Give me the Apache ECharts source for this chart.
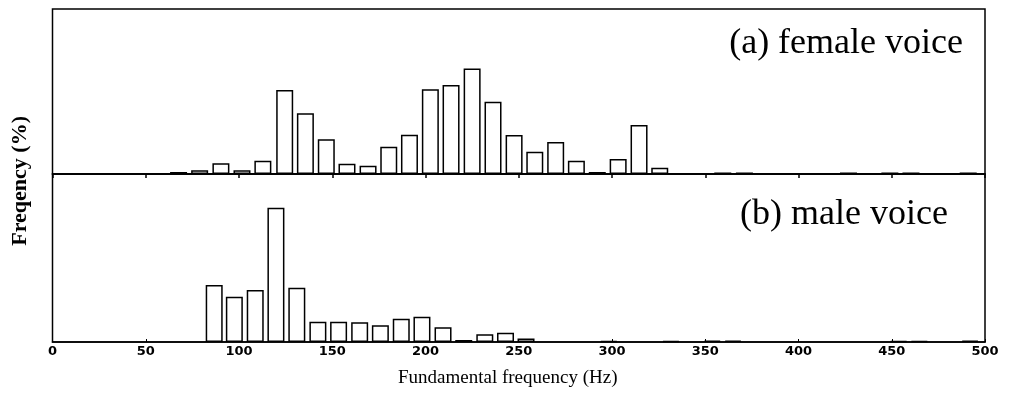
<!DOCTYPE html>
<html>
<head>
<meta charset="utf-8">
<script src="https://cdn.jsdelivr.net/npm/echarts@6/dist/echarts.min.js"></script>
<style>
  html, body { margin: 0; padding: 0; background: #fff; }
  #chart { width: 1010px; height: 395px; }
</style>
</head>
<body>
<div id="chart"></div>
<script>
// bin centres (Hz) and frequency (%)
const femaleBins = [67.6, 78.9, 90.3, 101.6, 112.8, 124.5, 135.6, 146.8, 157.9, 169.2,
  180.3, 191.4, 202.6, 213.7, 225.0, 236.2, 247.5, 258.6, 269.8, 280.9,
  292.1, 303.3, 314.5, 325.6, 359.4, 371.0, 426.8, 449.0, 460.3, 491.0];
const femaleValues = [0.24, 0.44, 1.28, 0.44, 1.59, 10.02, 7.24, 4.14, 1.23, 0.99,
  3.26, 4.69, 10.11, 10.62, 12.61, 8.63, 4.65, 2.66, 3.82, 1.59,
  0.24, 1.79, 5.85, 0.75, 0.18, 0.18, 0.18, 0.18, 0.18, 0.18];

const maleBins = [86.7, 97.5, 108.7, 119.8, 131.0, 142.3, 153.4, 164.7, 175.8, 187.0,
  198.1, 209.4, 220.5, 231.8, 242.9, 253.9, 298.3, 331.6, 353.8, 364.9,
  453.7, 464.8, 492.0];
const maleValues = [11.11, 8.83, 10.14, 26.18, 10.58, 3.96, 3.96, 3.84, 3.26, 4.54,
  4.93, 2.87, 0.39, 1.50, 1.81, 0.68, 0.2, 0.2, 0.25, 0.25,
  0.2, 0.2, 0.25];

const xTicks = [0, 50, 100, 150, 200, 250, 300, 350, 400, 450, 500];

const panelTitles = ['(a) female voice', '(b) male voice'];
const xName = 'Fundamental frequency (Hz)';
const yName = 'Freqency (%)';

const pairs = (xs, ys) => xs.map((x, i) => [x, ys[i]]);

const barStyle = {color: '#fff', borderColor: '#000', borderWidth: 1.5};
const serif = '"Liberation Serif", "DejaVu Serif", serif';

const chart = echarts.init(document.getElementById('chart'));

const option = {
    animation: false,
    backgroundColor: '#fff',
    title: [
        {text: panelTitles[0], right: 42, top: 21,
            textStyle: {fontFamily: serif, fontSize: 36, fontWeight: 'normal', color: '#000'}},
        {text: panelTitles[1], right: 57, top: 192,
            textStyle: {fontFamily: serif, fontSize: 36, fontWeight: 'normal', color: '#000'}}
    ],
    graphic: [
        {
            type: 'text',
            left: 9, top: 116,
            rotation: Math.PI / 2,
            style: {text: yName, font: 'bold 22px ' + serif, fill: '#000'}
        },
        {
            type: 'text',
            left: 398, top: 369,
            style: {text: xName, font: '19px ' + serif, fill: '#000'}
        }
    ],
    grid: [
        {left: 52.5, right: 25, top: 9, height: 165, show: true, borderColor: '#000', borderWidth: 1.5},
        {left: 52.5, right: 25, top: 174, height: 168, show: true, borderColor: '#000', borderWidth: 1.5}
    ],
    xAxis: [
        {
            gridIndex: 0, type: 'value', min: 0, max: 500, interval: 50,
            axisLine: {show: true, onZero: false, lineStyle: {color: '#000', width: 1.5}},
            axisTick: {show: true, inside: false, length: 4, lineStyle: {color: '#000', width: 1.5}},
            axisLabel: {show: false},
            splitLine: {show: false}
        },
        {
            gridIndex: 1, type: 'value', min: 0, max: 500, interval: 50,
            axisLine: {show: true, onZero: false, lineStyle: {color: '#000', width: 1.5}},
            axisTick: {show: true, inside: true, length: 3, lineStyle: {color: '#000', width: 1}},
            axisLabel: {show: true, margin: 3, color: '#000', fontSize: 13, fontWeight: 'bold',
                fontFamily: '"DejaVu Sans", sans-serif',
                formatter: v => xTicks.includes(v) ? String(v) : ''},
            splitLine: {show: false}
        }
    ],
    yAxis: [
        {gridIndex: 0, type: 'value', min: 0, max: 19.7, show: false},
        {gridIndex: 1, type: 'value', min: 0, max: 32.75, show: false}
    ],
    series: [
        {
            name: 'female', type: 'bar', xAxisIndex: 0, yAxisIndex: 0,
            barWidth: 17, data: pairs(femaleBins, femaleValues), itemStyle: barStyle
        },
        {
            name: 'male', type: 'bar', xAxisIndex: 1, yAxisIndex: 1,
            barWidth: 17, data: pairs(maleBins, maleValues), itemStyle: barStyle
        }
    ]
};

chart.setOption(option);
</script>
</body>
</html>
